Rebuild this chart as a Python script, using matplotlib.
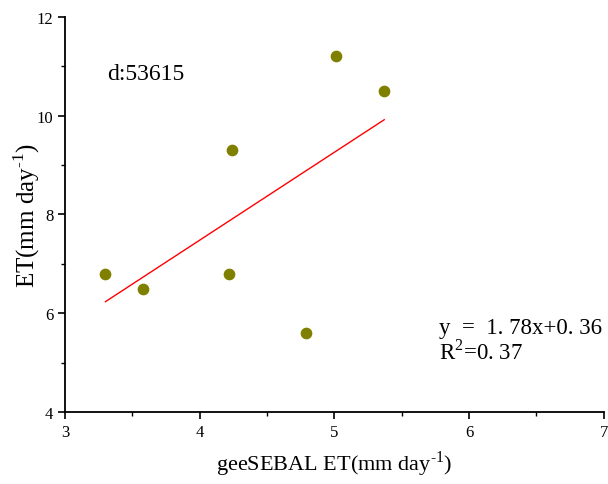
import numpy as np
import matplotlib.pyplot as plt
from matplotlib.ticker import MultipleLocator

gee_et = [3.30, 3.58, 4.22, 4.24, 4.79, 5.01, 5.37]
obs_et = [6.8, 6.5, 6.8, 9.3, 5.6, 11.2, 10.5]
slope = 1.78
intercept = 0.36
station = "d:53615"

plt.rcParams['font.family'] = ['Liberation Serif', 'DejaVu Serif']
plt.rcParams['axes.unicode_minus'] = False
plt.rcParams['mathtext.fontset'] = 'custom'
plt.rcParams['mathtext.rm'] = 'Liberation Serif'

unit = "$^{\\mathregular{\u2010 1}}$"


def main():
    fig = plt.figure(figsize=(6.08, 4.85), dpi=100)
    ax = fig.add_axes([0.107, 0.1485, 0.886, 0.8145])

    ax.scatter(gee_et, obs_et, s=55, color="#808000", zorder=3)
    xf = np.array([min(gee_et), max(gee_et)])
    ax.plot(xf, slope * xf + intercept, color="red", lw=1.0)

    ax.set_xlim(3, 7)
    ax.set_ylim(4, 12)
    ax.xaxis.set_major_locator(MultipleLocator(1))
    ax.xaxis.set_minor_locator(MultipleLocator(0.5))
    ax.yaxis.set_major_locator(MultipleLocator(2))
    ax.yaxis.set_minor_locator(MultipleLocator(1))
    ax.tick_params(which="major", direction="out", length=5, width=1.2, labelsize=12)
    ax.tick_params(which="minor", direction="out", length=3, width=1.0)
    ax.spines["top"].set_visible(False)
    ax.spines["right"].set_visible(False)
    ax.spines["left"].set_linewidth(1.3)
    ax.spines["bottom"].set_linewidth(1.3)

    ax.set_xlabel("geeSEBAL ET(mm day" + unit + ")", fontsize=16, labelpad=6)
    ax.set_ylabel("ET(mm day" + unit + ")", fontsize=18, labelpad=-4)

    ax.text(0.078, 0.843, station, transform=ax.transAxes, fontsize=17)
    ax.text(0.695, 0.2, "y  =  1. 78x+0. 36", transform=ax.transAxes, fontsize=16.5)
    ax.text(0.695, 0.135, "R$^{\\mathregular{2}}$=0. 37", transform=ax.transAxes, fontsize=16.5)

    fig.savefig("out.png", dpi=100)


if __name__ == "__main__":
    main()
